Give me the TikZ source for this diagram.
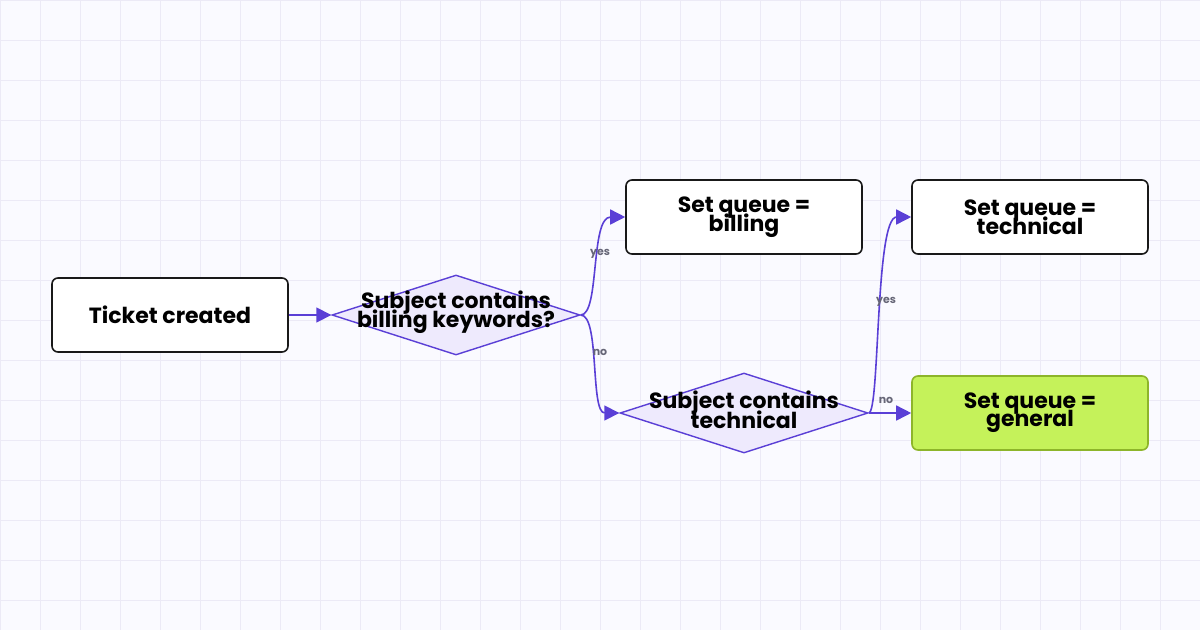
\documentclass[tikz,border=0pt]{standalone}
\usepackage{fontspec}
\setmainfont{Poppins}
\usetikzlibrary{shapes.geometric,arrows.meta}
\definecolor{edge}{HTML}{5A3FD6}
\definecolor{dfill}{HTML}{EEEAFD}
\definecolor{gfill}{HTML}{C5F25A}
\definecolor{gline}{HTML}{8DB52A}
\definecolor{grid}{HTML}{ECEAF6}
\definecolor{lbl}{HTML}{666677}
\tikzset{
  x=1pt,y=-1pt,
  txt/.style={font=\bfseries\fontsize{22}{19}\selectfont,align=center},
  box/.style={txt,draw=black!90,line width=1.6pt,rounded corners=6pt,fill=white,minimum width=236pt,minimum height=74pt,inner sep=0pt},
  dia/.style={diamond,draw=edge,line width=1.4pt,fill=dfill,minimum width=248pt,minimum height=80pt,aspect=3.1,inner sep=0pt},
  con/.style={draw=edge,line width=1.6pt,-{Triangle[length=15pt,width=15pt]}},
  lab/.style={font=\bfseries\fontsize{11}{11}\selectfont,text=lbl,inner sep=1pt}
}
\begin{document}
\begin{tikzpicture}
\useasboundingbox (0,0) rectangle (1200,630);
\fill[white!98!blue] (0,0) rectangle (1200,630);
\foreach \x in {0,40,...,1200} \draw[grid,line width=0.7pt] (\x,0) -- (\x,630);
\foreach \y in {0,40,...,630} \draw[grid,line width=0.7pt] (0,\y) -- (1200,\y);
\node[box] (t) at (170,315) {Ticket created};
\node[dia] (d1) at (456,315) {};
\node[txt] (d1t) at (456,312) {Subject contains\\[-5pt]billing keywords?};
\node[box] (b) at (744,217) {Set queue =\\[-5pt]billing};
\node[box] (tc) at (1030,217) {Set queue =\\[-5pt]technical};
\node[dia] (d2) at (744,413) {};
\node[txt] (d2t) at (744,410) {Subject contains\\[-5pt]technical};
\node[box,draw=gline,fill=gfill] (g) at (1030,413) {Set queue =\\[-5pt]general};
\draw[con] (t.east) -- (d1.west);
\draw[con] (d1.east) .. controls (600,315) and (590,217) .. (b.west);
\draw[con] (d1.east) .. controls (600,315) and (590,413) .. (d2.west);
\draw[con] (d2.east) .. controls (880,413) and (875,217) .. (tc.west);
\draw[con] (d2.east) -- (g.west);
\node[lab] (l1) at (600,254) {yes};
\node[lab] (l2) at (600,352) {no};
\node[lab] (l3) at (886,302) {yes};
\node[lab] (l4) at (886,400) {no};
\end{tikzpicture}
\end{document}
